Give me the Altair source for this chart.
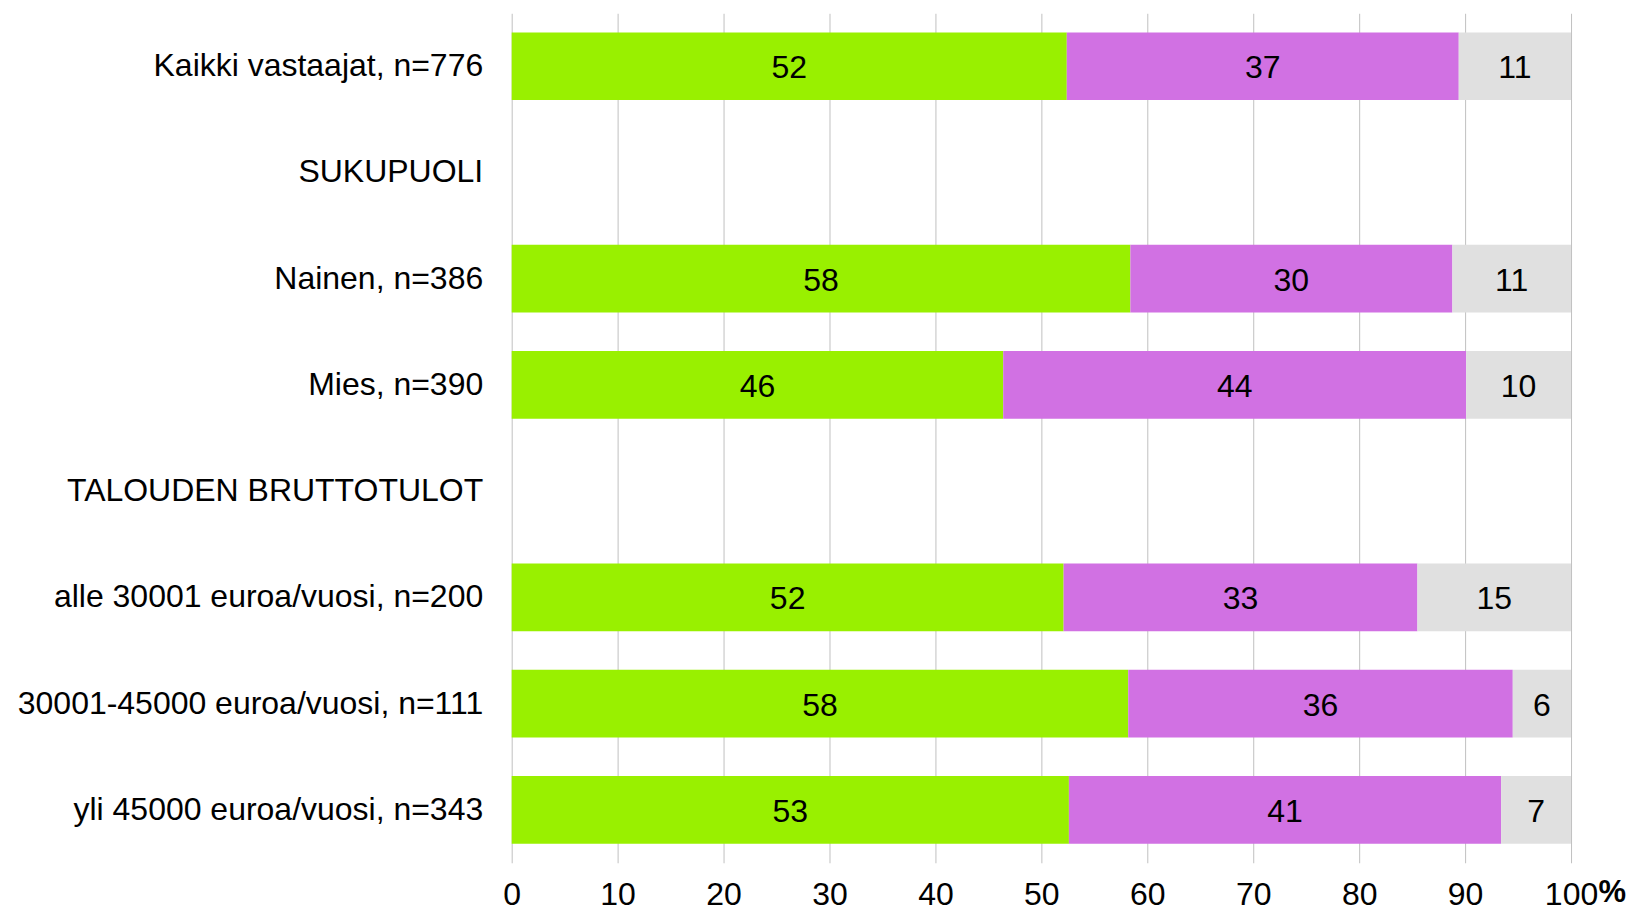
import altair as alt
import pandas as pd

categories = [
    "Kaikki vastaajat, n=776",
    "SUKUPUOLI",
    "Nainen, n=386",
    "Mies, n=390",
    "TALOUDEN BRUTTOTULOT",
    "alle 30001 euroa/vuosi, n=200",
    "30001-45000 euroa/vuosi, n=111",
    "yli 45000 euroa/vuosi, n=343",
]
data_rows = [
    "Kaikki vastaajat, n=776",
    "Nainen, n=386",
    "Mies, n=390",
    "alle 30001 euroa/vuosi, n=200",
    "30001-45000 euroa/vuosi, n=111",
    "yli 45000 euroa/vuosi, n=343",
]
series = ["s1", "s2", "s3"]
colors = ["#99F000", "#D171E3", "#E0E0E0"]
s1_values = [52.4, 58.4, 46.4, 52.1, 58.2, 52.6]
s2_values = [37.0, 30.4, 43.7, 33.4, 36.3, 40.8]
s3_values = [10.6, 11.2, 9.9, 14.5, 5.5, 6.6]
s1_labels = ["52", "58", "46", "52", "58", "53"]
s2_labels = ["37", "30", "44", "33", "36", "41"]
s3_labels = ["11", "11", "10", "15", "6", "7"]
x_ticks = [0, 10, 20, 30, 40, 50, 60, 70, 80, 90, 100]

rows = []
for i, cat in enumerate(data_rows):
    for k, (vals, labs) in enumerate(
        [(s1_values, s1_labels), (s2_values, s2_labels), (s3_values, s3_labels)]
    ):
        rows.append({"cat": cat, "series": series[k], "order": k,
                     "value": vals[i], "label": labs[i]})
df = pd.DataFrame(rows)

FONT = "Liberation Sans"
FS = 32

y_enc = alt.Y(
    "cat:N",
    sort=categories,
    scale=alt.Scale(domain=categories, paddingInner=0.363, paddingOuter=0.18),
    axis=alt.Axis(
        title=None, ticks=False, domain=False, grid=False,
        labelFont=FONT, labelFontSize=FS, labelColor="black",
        labelPadding=29, labelLimit=800, minExtent=504, maxExtent=504,
    ),
)

base = alt.Chart(df).transform_window(
    cum="sum(value)", groupby=["cat"], sort=[alt.SortField("order")]
).transform_calculate(
    start="datum.cum - datum.value",
    mid="datum.cum - datum.value / 2",
)

bars = base.mark_bar().encode(
    x=alt.X(
        "start:Q",
        scale=alt.Scale(domain=[0, 100], nice=False),
        axis=alt.Axis(
            values=x_ticks, grid=True, gridColor="#C0C0C0", gridWidth=1,
            ticks=False, domain=False, labelFont=FONT, labelFontSize=FS,
            labelColor="black", labelPadding=17, labelFlush=False,
            minExtent=44, maxExtent=44,
            title="%", titleFont=FONT, titleFontSize=31, titleFontWeight="bold",
            titleColor="black", titleX=1087, titleY=15, titleAlign="left",
            titleBaseline="top", titleAnchor="start",
        ),
    ),
    x2="cum:Q",
    y=y_enc,
    color=alt.Color("series:N", scale=alt.Scale(domain=series, range=colors), legend=None),
)

texts = base.mark_text(font=FONT, fontSize=FS, color="black", baseline="middle", dy=2).encode(
    x=alt.X("mid:Q"),
    y=alt.Y("cat:N", sort=categories),
    text="label:N",
)

chart = (bars + texts).properties(
    width=1060, height=850,
    padding={"left": 0, "top": 5, "right": 0, "bottom": 0},
).configure_view(stroke=None)

chart.save("out.html", embed_options={"renderer": "svg", "actions": False})
